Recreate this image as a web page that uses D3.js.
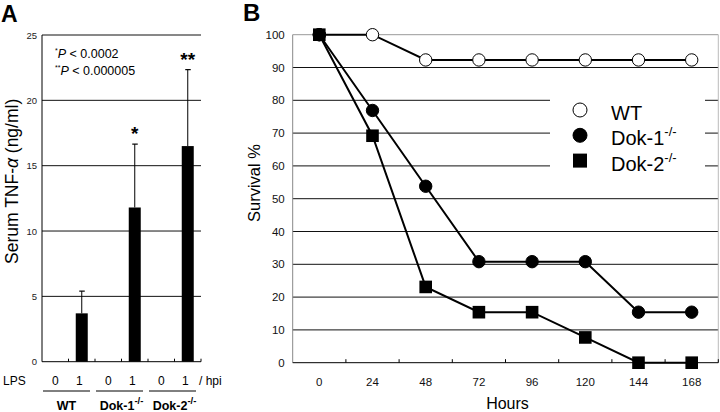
<!DOCTYPE html>
<html><head><meta charset="utf-8">
<script src="https://cdn.jsdelivr.net/npm/d3@7/dist/d3.min.js"></script>
<style>
body{margin:0;background:#fff;}
svg{display:block;font-family:"Liberation Sans",Arial,sans-serif;}
</style></head><body>
<svg id="c" width="720" height="412"></svg>
<script>
// ---- Panel A data ----
const lpsCategories = ["WT-0","WT-1","Dok1-0","Dok1-1","Dok2-0","Dok2-1"];
const lpsLabels = ["0","1","0","1","0","1"];
const tnfMean = [0, 3.7, 0, 11.8, 0, 16.5];
const tnfSD = [0, 1.7, 0, 4.85, 0, 5.85];
const sigMarks = ["", "", "", "*", "", "**"];
const tnfTicks = [0, 5, 10, 15, 20, 25];
const genotypeGroups = ["WT", "Dok-1", "Dok-2"];
const groupSup = ["", "-/-", "-/-"];

// ---- Panel B data ----
const hoursLabels = ["0","24","48","72","96","120","144","168"];
const wtSurvival   = [100, 100, 92.3, 92.3, 92.3, 92.3, 92.3, 92.3];
const dok1Survival = [100, 76.9, 53.8, 30.8, 30.8, 30.8, 15.4, 15.4];
const dok2Survival = [100, 69.2, 23.1, 15.4, 15.4, 7.7, 0, 0];
const survivalTicks = [0,10,20,30,40,50,60,70,80,90,100];
const legendNames = ["WT", "Dok-1", "Dok-2"];
const legendSup = ["", "-/-", "-/-"];

const svg = d3.select("#c");

// ================= Panel A =================
const A = {left: 42, right: 201, top: 35, bottom: 361.7};
const xA = d3.scaleBand().domain(lpsCategories).range([A.left, A.right]);
const yA = d3.scaleLinear().domain([0, 25]).range([A.bottom, A.top]);
const gA = svg.append("g");

svg.append("text").attr("x", 1).attr("y", 22).attr("font-size", 23).attr("font-weight", "bold").text("A");

// gridlines
gA.selectAll("line.grid").data(tnfTicks.filter(d => d > 0)).join("line")
  .attr("x1", A.left).attr("x2", A.right)
  .attr("y1", d => yA(d)).attr("y2", d => yA(d))
  .attr("stroke", "#111").attr("stroke-width", 1);

// y axis labels
const axA = gA.append("g").attr("transform", `translate(${A.left},0)`)
  .call(d3.axisLeft(yA).tickValues(tnfTicks).tickSize(0).tickPadding(5));
axA.select(".domain").remove();
axA.selectAll("text").attr("font-size", 9.5).attr("font-family", "Liberation Sans, Arial, sans-serif").attr("fill", "#222");
gA.append("line").attr("x1", A.left).attr("x2", A.left).attr("y1", A.top).attr("y2", A.bottom).attr("stroke", "#000");

// bars
const bw = 12;
const barData = lpsCategories.map((c, i) => ({c, v: tnfMean[i], sd: tnfSD[i], s: sigMarks[i]})).filter(d => d.v > 0);
gA.selectAll("rect.bar").data(barData)
  .join("rect")
  .attr("x", d => xA(d.c) + xA.bandwidth() / 2 - bw / 2)
  .attr("width", bw)
  .attr("y", d => yA(d.v))
  .attr("height", d => yA(0) - yA(d.v))
  .attr("fill", "#000");

barData.forEach(d => {
  const cx = xA(d.c) + xA.bandwidth() / 2;
  gA.append("line").attr("x1", cx).attr("x2", cx).attr("y1", yA(d.v)).attr("y2", yA(d.v + d.sd)).attr("stroke", "#000").attr("stroke-width", 1);
  gA.append("line").attr("x1", cx - 2.5).attr("x2", cx + 3).attr("y1", yA(d.v + d.sd)).attr("y2", yA(d.v + d.sd)).attr("stroke", "#000").attr("stroke-width", 1.2);
  if (d.s) {
    gA.append("text").attr("x", cx).attr("y", yA(d.v + d.sd) - 4).attr("text-anchor", "middle")
      .attr("font-size", 19).attr("font-weight", "bold").text(d.s);
  }
});

// x axis baseline & ticks
gA.append("line").attr("x1", A.left).attr("x2", A.right).attr("y1", A.bottom).attr("y2", A.bottom).attr("stroke", "#000");
lpsCategories.forEach((c, i) => {
  if (i === 0) return;
  const x = xA(c);
  gA.append("line").attr("x1", x).attr("x2", x).attr("y1", A.bottom).attr("y2", A.bottom - 3).attr("stroke", "#000");
});
gA.append("line").attr("x1", A.right).attr("x2", A.right).attr("y1", A.bottom).attr("y2", A.bottom - 3).attr("stroke", "#000");

// p-values text
const pt = svg.append("text").attr("x", 55).attr("y", 57.5).attr("font-size", 12.5);
pt.append("tspan").attr("font-size", 7).attr("dy", -5).text("*");
pt.append("tspan").attr("dy", 5).attr("font-style", "italic").text("P");
pt.append("tspan").text(" < 0.0002");
const pt2 = svg.append("text").attr("x", 55).attr("y", 74.5).attr("font-size", 12.5);
pt2.append("tspan").attr("font-size", 7).attr("dy", -5).text("**");
pt2.append("tspan").attr("dy", 5).attr("font-style", "italic").text("P");
pt2.append("tspan").text(" < 0.000005");

// y title
svg.append("text").attr("transform", `translate(17.5,${(A.top + A.bottom) / 2 - 17}) rotate(-90)`)
  .attr("text-anchor", "middle").attr("font-size", 17.5)
  .call(t => {
    t.append("tspan").text("Serum TNF-");
    t.append("tspan").attr("font-style", "italic").text("\u03B1");
    t.append("tspan").text(" (ng/ml)");
  });

// bottom labels
svg.append("text").attr("x", 3).attr("y", 385).attr("font-size", 12).text("LPS");
lpsCategories.forEach((c, i) => {
  svg.append("text").attr("x", xA(c) + xA.bandwidth() / 2 - (i % 2 ? 2.5 : 0)).attr("y", 385).attr("text-anchor", "middle").attr("font-size", 12).text(lpsLabels[i]);
});
svg.append("text").attr("x", 199).attr("y", 385).attr("font-size", 12).text("/ hpi");
genotypeGroups.forEach((g, i) => {
  const x1 = xA(lpsCategories[i * 2]) + 1;
  const x2 = xA(lpsCategories[i * 2 + 1]) + xA.bandwidth() - 5;
  svg.append("line").attr("x1", x1).attr("x2", x2).attr("y1", 391).attr("y2", 391).attr("stroke", "#000");
  const t = svg.append("text").attr("x", (x1 + x2) / 2 + (i ? 2 : 0)).attr("y", 410).attr("text-anchor", "middle")
    .attr("font-size", 12.5).attr("font-weight", "bold");
  t.append("tspan").text(g);
  if (groupSup[i]) t.append("tspan").attr("dy", -6).attr("font-size", 9.5).text(groupSup[i]);
});

// ================= Panel B =================
const B = {left: 292.7, right: 718.3, top: 34.7, bottom: 362.7};
const xB = d3.scaleBand().domain(hoursLabels).range([B.left, B.right]);
const yB = d3.scaleLinear().domain([0, 100]).range([B.bottom, B.top]);
const cxB = h => xB(h) + xB.bandwidth() / 2;
const gB = svg.append("g");

svg.append("text").attr("x", 243).attr("y", 21).attr("font-size", 24).attr("font-weight", "bold").text("B");

// gridlines
gB.selectAll("line.grid").data(survivalTicks.filter(d => d > 0 && d < 100)).join("line")
  .attr("x1", B.left).attr("x2", B.right)
  .attr("y1", d => yB(d)).attr("y2", d => yB(d))
  .attr("stroke", "#111").attr("stroke-width", 1);
// top & right border (gray)
gB.append("line").attr("x1", B.left).attr("x2", B.right).attr("y1", yB(100)).attr("y2", yB(100)).attr("stroke", "#999");
gB.append("line").attr("x1", B.right).attr("x2", B.right).attr("y1", B.top).attr("y2", B.bottom).attr("stroke", "#bbb");
gB.append("line").attr("x1", B.left).attr("x2", B.left).attr("y1", B.top).attr("y2", B.bottom).attr("stroke", "#888");

// legend box (covers gridlines)
gB.append("rect").attr("x", 550).attr("y", 88).attr("width", 155).attr("height", 86).attr("fill", "#fff");

// y axis labels
const axB = gB.append("g").attr("transform", `translate(${B.left},0)`)
  .call(d3.axisLeft(yB).tickValues(survivalTicks).tickSize(0).tickPadding(8));
axB.select(".domain").remove();
axB.selectAll("text").attr("font-size", 11.5).attr("font-family", "Liberation Sans, Arial, sans-serif").attr("fill", "#111");

// x axis
gB.append("line").attr("x1", B.left).attr("x2", B.right).attr("y1", B.bottom).attr("y2", B.bottom).attr("stroke", "#000");
hoursLabels.forEach((h, i) => {
  if (i === 0) return;
  gB.append("line").attr("x1", xB(h)).attr("x2", xB(h)).attr("y1", B.bottom).attr("y2", B.bottom - 3.5).attr("stroke", "#000");
});
gB.append("line").attr("x1", B.right).attr("x2", B.right).attr("y1", B.bottom).attr("y2", B.bottom - 3.5).attr("stroke", "#000");
const axBx = gB.append("g").attr("transform", `translate(0,${B.bottom})`)
  .call(d3.axisBottom(xB).tickSize(0).tickPadding(15));
axBx.select(".domain").remove();
axBx.selectAll("text").attr("font-size", 11.5).attr("font-family", "Liberation Sans, Arial, sans-serif").attr("fill", "#111");

svg.append("text").attr("x", (B.left + B.right) / 2 + 2).attr("y", 409).attr("text-anchor", "middle").attr("font-size", 16).text("Hours");
svg.append("text").attr("transform", `translate(260,${183}) rotate(-90)`).attr("text-anchor", "middle").attr("font-size", 16.5).text("Survival %");

// lines
const series = [
  {vals: wtSurvival, type: "open"},
  {vals: dok2Survival, type: "square"},
  {vals: dok1Survival, type: "filled"}
];
const line = d3.line().x((d, i) => cxB(hoursLabels[i])).y(d => yB(d));
series.forEach(s => {
  gB.append("path").attr("d", line(s.vals)).attr("fill", "none").attr("stroke", "#000").attr("stroke-width", 2);
});
function marker(g, type, x, y, sz) {
  if (type === "square") {
    g.append("rect").attr("x", x - sz).attr("y", y - sz).attr("width", sz * 2).attr("height", sz * 2).attr("fill", "#000");
  } else {
    g.append("circle").attr("cx", x).attr("cy", y).attr("r", sz)
      .attr("fill", type === "open" ? "#fff" : "#000").attr("stroke", "#000").attr("stroke-width", 1);
  }
}
series.forEach(s => {
  s.vals.forEach((v, i) => marker(gB, s.type, cxB(hoursLabels[i]), yB(v), s.type === "square" ? 6.3 : 6.2));
});

// legend
const legTypes = ["open", "filled", "square"];
legendNames.forEach((n, i) => {
  const y = 110 + i * 25.3;
  marker(gB, legTypes[i], 580, y, 7);
  const t = gB.append("text").attr("x", 611).attr("y", y + 10).attr("font-size", 20);
  t.append("tspan").text(n);
  if (legendSup[i]) t.append("tspan").attr("dy", -9).attr("font-size", 13).text(legendSup[i]);
});
</script>
</body></html>
